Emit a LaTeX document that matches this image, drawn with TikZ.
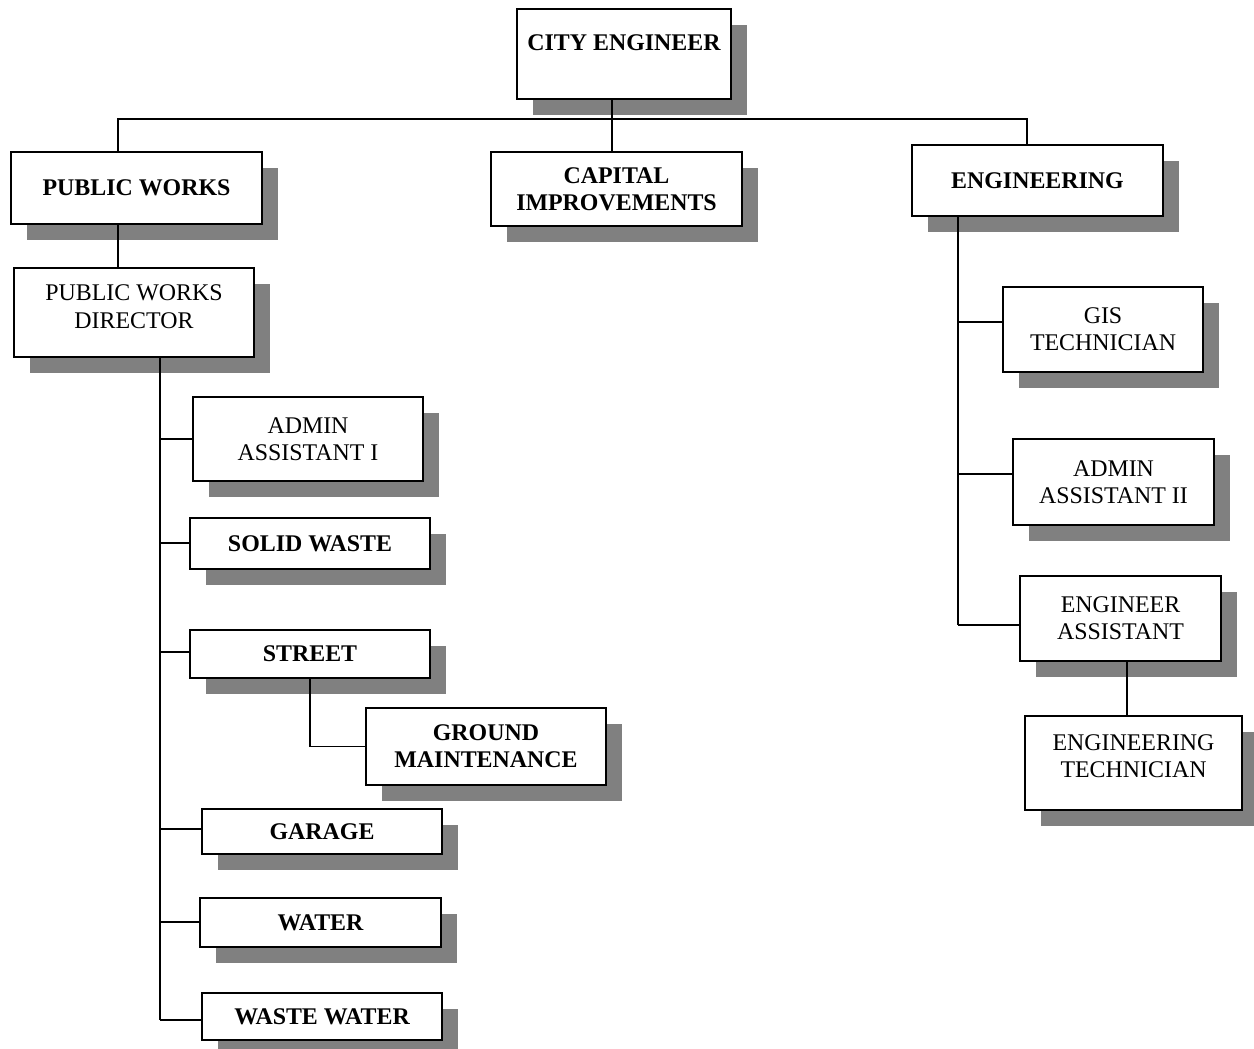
\documentclass[tikz,border=0pt]{standalone}
\usepackage{fontspec}
\setmainfont{Liberation Serif}
\usepackage{tikz}
\usetikzlibrary{positioning, calc, shadows}

\definecolor{shadowgray}{gray}{0.5}

\begin{document}
\begin{tikzpicture}[x=0.02cm, y=-0.02cm,
    every node/.style={font=\fontsize{13.6}{15.5}\selectfont},
    orgbox/.style={draw, line width=1.1pt, fill=white, align=center, inner sep=0pt,
        drop shadow={shadow xshift=0.32cm, shadow yshift=-0.32cm, fill=shadowgray, opacity=1}},
    headbox/.style={orgbox, font=\fontsize{13.6}{15.5}\selectfont\bfseries},
    link/.style={line width=0.9pt}
]
\useasboundingbox (0,0) rectangle (1254,1048);

% Top level
\node[headbox, minimum width=4.28cm, minimum height=1.8cm, text depth=0.44cm] (ce) at (624,54) {CITY ENGINEER};

% Divisions
\node[headbox, minimum width=5.02cm, minimum height=1.44cm] (pw) at (136.5,188) {PUBLIC WORKS};
\node[headbox, minimum width=5.02cm, minimum height=1.48cm] (cap) at (616.5,189) {CAPITAL\\IMPROVEMENTS};
\node[headbox, minimum width=5.02cm, minimum height=1.42cm] (eng) at (1037.5,180.5) {ENGINEERING};

% Public works side
\node[orgbox, minimum width=4.8cm, minimum height=1.78cm, text depth=0.24cm] (pwd) at (134,312.5) {PUBLIC WORKS\\DIRECTOR};
\node[orgbox, minimum width=4.6cm, minimum height=1.68cm] (aa1) at (308,439) {ADMIN\\ASSISTANT I};
\node[headbox, minimum width=4.8cm, minimum height=1.02cm] (sw) at (310,543.5) {SOLID WASTE};
\node[headbox, minimum width=4.8cm, minimum height=0.96cm] (st) at (310,654) {STREET};
\node[headbox, minimum width=4.8cm, minimum height=1.54cm] (gm) at (486,746.5) {GROUND\\MAINTENANCE};
\node[headbox, minimum width=4.8cm, minimum height=0.9cm] (gar) at (322,831.5) {GARAGE};
\node[headbox, minimum width=4.82cm, minimum height=0.98cm] (wat) at (320.5,922.5) {WATER};
\node[headbox, minimum width=4.8cm, minimum height=0.94cm] (ww) at (322,1016.5) {WASTE WATER};

% Engineering side
\node[orgbox, minimum width=4.0cm, minimum height=1.7cm] (gis) at (1103,329.5) {GIS\\TECHNICIAN};
\node[orgbox, minimum width=4.02cm, minimum height=1.72cm] (aa2) at (1113.5,482) {ADMIN\\ASSISTANT II};
\node[orgbox, minimum width=4.02cm, minimum height=1.7cm] (ea) at (1120.5,618.5) {ENGINEER\\ASSISTANT};
\node[orgbox, minimum width=4.34cm, minimum height=1.88cm, text depth=0.28cm] (et) at (1133.5,763) {ENGINEERING\\TECHNICIAN};

% Bus under the city engineer
\coordinate (busL) at (118,119);
\coordinate (busM) at (612,119);
\coordinate (busR) at (1027,119);
\draw[link] (busL |- pw.north) -- (busL) -- (busR) -- (busR |- eng.north);
\draw[link] (busM |- ce.south) -- (busM |- cap.north);
\draw[link] (busL |- pw.south) -- (busL |- pwd.north);

% Public works trunk
\coordinate (pwtrunk) at (160,357);
\draw[link] (pwtrunk |- pwd.south) -- (160,1020);
\draw[link] (pwtrunk |- aa1.west) -- (aa1.west);
\draw[link] (160,543) -- (160,543 -| sw.west);
\draw[link] (160,652) -- (160,652 -| st.west);
\draw[link] (160,829) -- (160,829 -| gar.west);
\draw[link] (160,922) -- (160,922 -| wat.west);
\draw[link] (160,1020) -- (160,1020 -| ww.west);
\draw[link] (st.south) |- (gm.west);

% Engineering trunk
\coordinate (gisjoin) at (958,322);
\coordinate (aa2join) at (958,474);
\coordinate (eajoin) at (958,625);
\draw[link] (gisjoin |- eng.south) -- (eajoin);
\draw[link] (gisjoin) -- (gisjoin -| gis.west);
\draw[link] (aa2join) -- (aa2join -| aa2.west);
\draw[link] (eajoin) -- (eajoin -| ea.west);
\coordinate (etjoin) at (1127,690);
\draw[link] (etjoin |- ea.south) -- (etjoin |- et.north);

\end{tikzpicture}
\end{document}
